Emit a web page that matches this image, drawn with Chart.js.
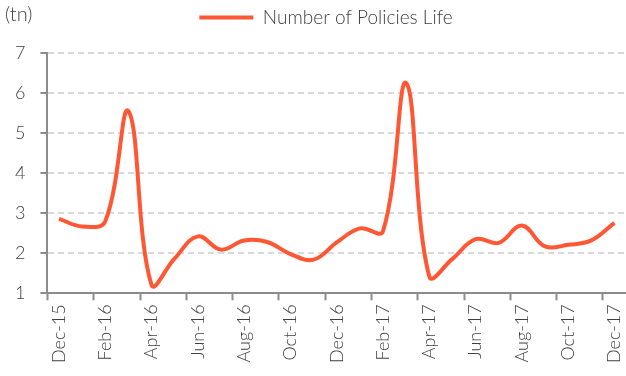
<!DOCTYPE html>
<html>
<head>
<meta charset="utf-8">
<script src="https://cdn.jsdelivr.net/npm/chart.js@4.4.1/dist/chart.umd.min.js"></script>
<style>
  html, body { margin: 0; padding: 0; background: #fff; }
  #wrap { width: 626px; height: 376px; }
</style>
</head>
<body>
<div id="wrap"><canvas id="mycanvas"></canvas></div>
<script>
// monthly figures, Dec-15 .. Dec-17
var months = ['Dec-15','Jan-16','Feb-16','Mar-16','Apr-16','May-16','Jun-16','Jul-16','Aug-16','Sep-16','Oct-16','Nov-16',
	'Dec-16','Jan-17','Feb-17','Mar-17','Apr-17','May-17','Jun-17','Jul-17','Aug-17','Sep-17','Oct-17','Nov-17','Dec-17'];
var policies = [2.86, 2.67, 2.80, 5.55, 1.20, 1.87, 2.42, 2.09, 2.32, 2.28, 1.98, 1.84,
	2.27, 2.62, 2.55, 6.25, 1.42, 1.86, 2.35, 2.26, 2.69, 2.17, 2.21, 2.32, 2.76];
var yTicks = [1, 2, 3, 4, 5, 6, 7];
var seriesName = 'Number of Policies Life';
var unitLabel = '(tn)';

var lineColor = '#ff5733';
var axisColor = '#8c8c8c';
var textColor = '#404040';
var fontFamily = "Lato, 'Open Sans', sans-serif";

// extra room under the legend, and nudge it right a bit
var legendSpacing = {
	id: 'legendSpacing',
	beforeInit: function(chart){
		var fit = chart.legend.fit;
		chart.legend.fit = function(){
			fit.bind(chart.legend)();
			this.height += 16;
		};
	},
	afterLayout: function(chart){
		chart.legend.left += 26;
	}
};

// unit caption in the top-left corner
var unitCaption = {
	id: 'unitCaption',
	afterDraw: function(chart){
		var ctx = chart.ctx;
		ctx.save();
		ctx.font = '300 20px ' + fontFamily;
		ctx.fillStyle = textColor;
		ctx.textBaseline = 'middle';
		ctx.textAlign = 'left';
		ctx.fillText(unitLabel, 5, 15);
		ctx.restore();
	}
};

var chartdata = {
	labels: months,
	datasets: [
		{
			label: seriesName,
			data: policies,
			borderColor: lineColor,
			backgroundColor: lineColor,
			borderWidth: 4,
			pointRadius: 0,
			tension: 0.4,
			fill: false
		}
	]
};

var cxt = document.getElementById('mycanvas');
var lineGraph = new Chart(cxt, {
	type: 'line',
	data: chartdata,
	plugins: [legendSpacing, unitCaption],
	options: {
		responsive: true,
		maintainAspectRatio: false,
		animation: false,
		layout: { padding: { left: 0, right: 0, top: 0, bottom: 9 } },
		plugins: {
			legend: {
				display: true,
				position: 'top',
				labels: {
					boxWidth: 54,
					boxHeight: 0,
					padding: 8,
					color: textColor,
					font: { family: fontFamily, size: 19, weight: '300' }
				}
			},
			tooltip: { enabled: false }
		},
		scales: {
			x: {
				type: 'category',
				offset: true,
				// let the axis run to the right edge of the canvas
				afterFit: function(scale){
					scale.paddingRight = 0;
				},
				grid: {
					offset: true,
					drawOnChartArea: false,
					drawTicks: true,
					tickLength: 7,
					tickWidth: 2,
					tickColor: function(c){ return c.index % 2 === 0 ? axisColor : 'rgba(0,0,0,0)'; }
				},
				border: { display: true, color: axisColor, width: 2 },
				ticks: {
					autoSkip: false,
					maxRotation: 90,
					minRotation: 90,
					padding: 4,
					color: textColor,
					font: { family: fontFamily, size: 18, weight: '300' },
					callback: function(val, idx){
						return idx % 2 === 0 ? this.getLabelForValue(val) : '';
					}
				}
			},
			y: {
				min: yTicks[0],
				max: yTicks[yTicks.length - 1],
				afterBuildTicks: function(axis){
					axis.ticks = yTicks.map(function(v){ return { value: v }; });
				},
				grid: {
					color: '#d9d9d9',
					lineWidth: 2,
					drawTicks: true,
					tickLength: 7,
					tickWidth: 2,
					tickColor: axisColor,
					tickBorderDash: []
				},
				border: { display: true, color: axisColor, width: 2, dash: [6, 4] },
				ticks: {
					padding: 15,
					color: textColor,
					font: { family: fontFamily, size: 18, weight: '300' }
				}
			}
		}
	}
});
</script>
</body>
</html>
